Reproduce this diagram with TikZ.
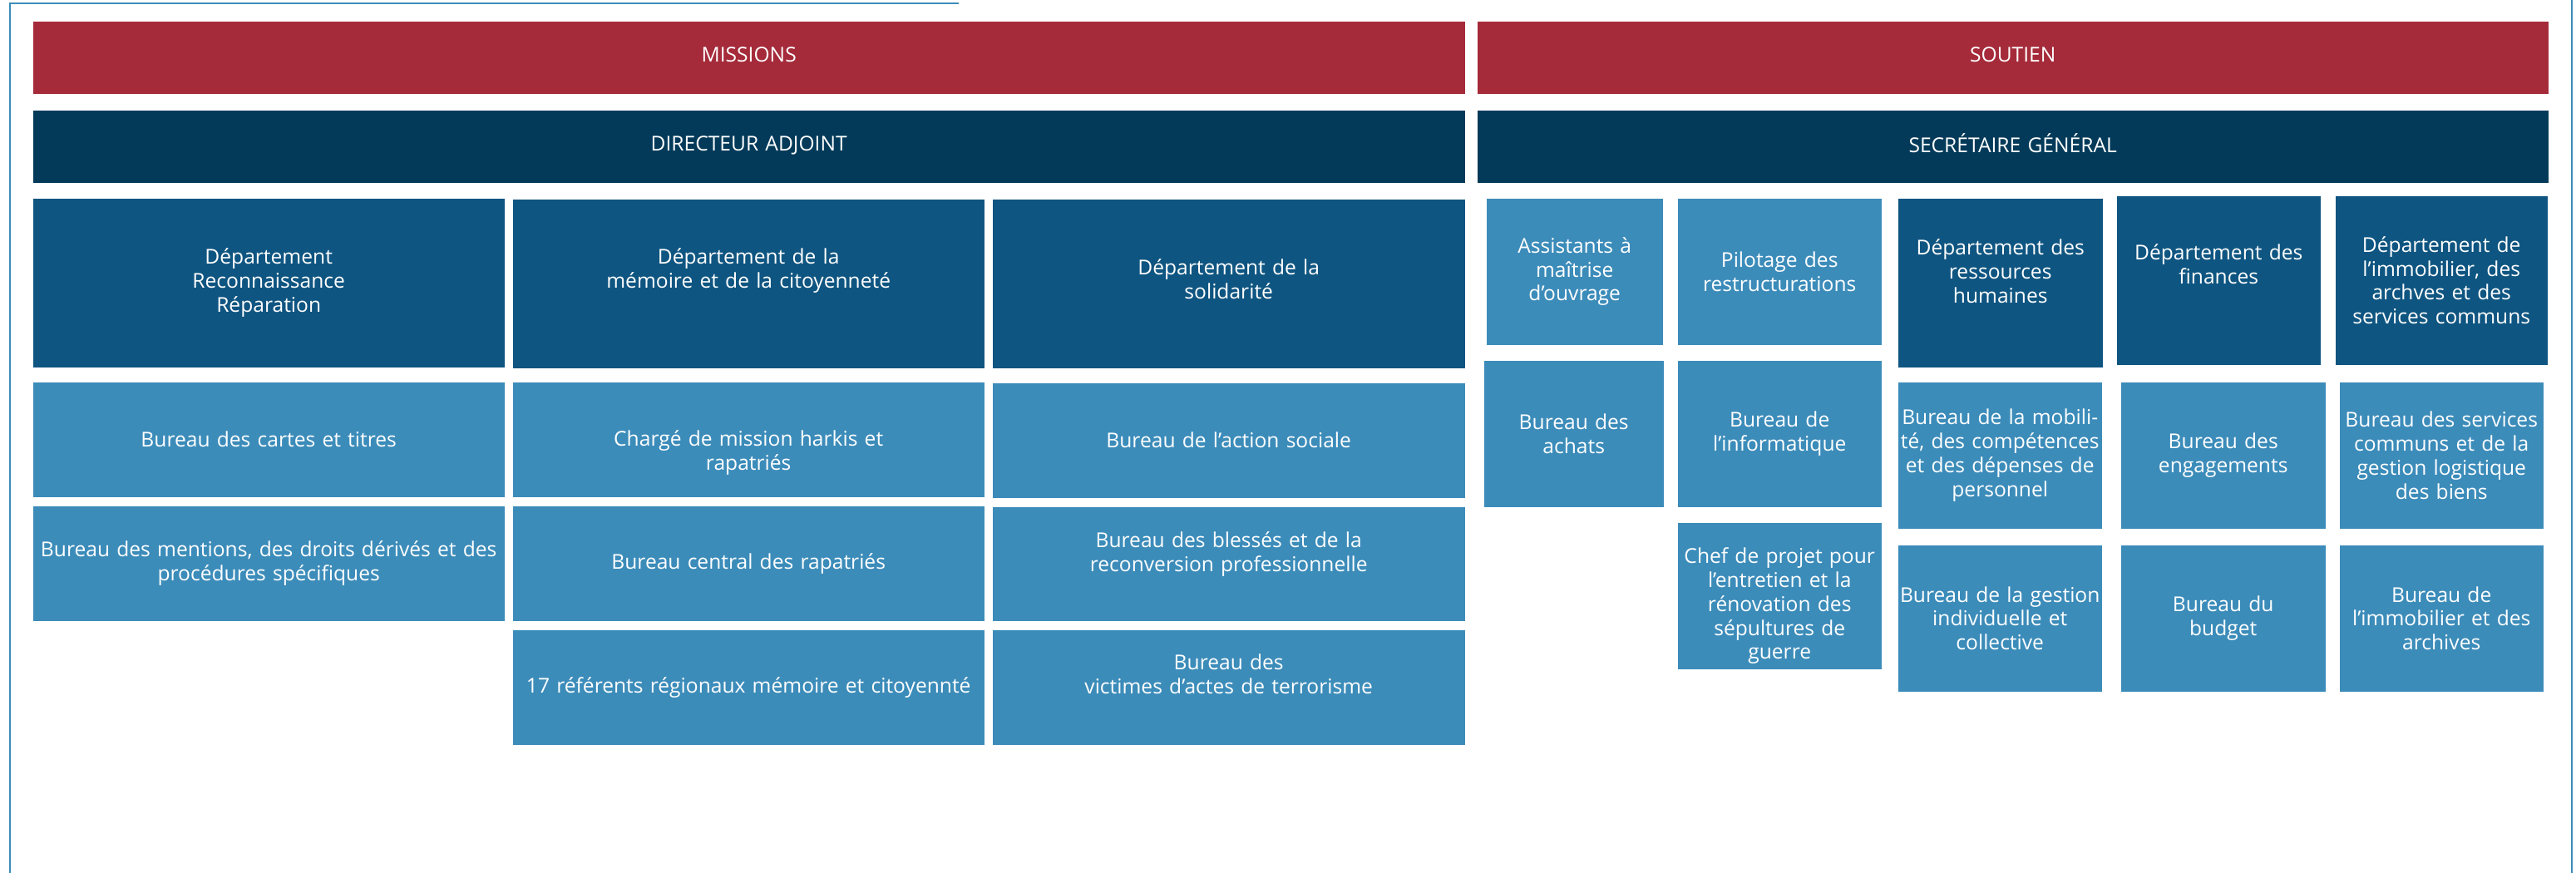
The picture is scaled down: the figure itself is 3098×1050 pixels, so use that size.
\documentclass[tikz,border=0pt]{standalone}
\usepackage{fontspec}
\setmainfont{Open Sans}
\usepackage{tikz}

\definecolor{polered}{HTML}{A52B3A}
\definecolor{headnavy}{HTML}{033A59}
\definecolor{deptblue}{HTML}{0F5581}
\definecolor{bureaublue}{HTML}{3C8CBA}

\begin{document}
\begin{tikzpicture}[
        x=0.1mm, y=-0.1mm,
        cell/.style 2 args={
            rectangle,
            inner sep=0pt,
            anchor=north west,
            text width=#1mm,
            minimum height=#2mm,
            align=center,
            text=white,
            font=\fontsize{7}{8.2}\selectfont
        },
        pole/.style={cell={#1}{8.7}, fill=polered, lift=0.8mm},
        head/.style={cell={#1}{8.7}, fill=headnavy, lift=0.8mm},
        dept/.style={fill=deptblue},
        bureau/.style={fill=bureaublue},
        lift/.style={execute at end node={\rule[-#1]{0pt}{#1}}},
        sink/.style={execute at begin node={\rule{0pt}{#1}}}
    ]
    
    \useasboundingbox (0,0) rectangle (3098,1050);
    
    % frame
    \draw[bureaublue, line width=0.2mm]
        (12,1050) --
        (12,4) --
        (1153,4);
    \draw[bureaublue, line width=0.2mm]
        (3093,0) --
        (3093,1050);
    
    % poles
    \node[pole=172.2] (missions) at (39,25) {MISSIONS};
    \node[pole=128.8] (soutien) at (1776,25) {SOUTIEN};
    
    \node[head=172.2] (directeur) at (39,132) {DIRECTEUR ADJOINT};
    \node[head=128.8] (secretaire) at (1776,132) {SECRÉTAIRE GÉNÉRAL};
    
    % missions: departements
    \node[cell={56.7}{20.3}, dept] (deptrr) at (39,238)
        {Département\\Reconnaissance\\Réparation};
    \node[cell={56.7}{20.3}, dept, lift=3.7mm] (deptmem) at (616,239)
        {Département de la\\mémoire et de la citoyenneté};
    \node[cell={56.8}{20.3}, dept, lift=1.2mm] (deptsol) at (1193,239)
        {Département de la\\solidarité};
    
    % missions: bureaux
    \node[cell={56.7}{13.8}, bureau] (cartes) at (39,459)
        {Bureau des cartes et titres};
    \node[cell={56.7}{13.8}, bureau] (mentions) at (39,608)
        {Bureau des mentions, des droits dérivés et des\\procédures spécifiques};
    
    \node[cell={56.7}{13.8}, bureau, sink=5.1mm] (harkis) at (616,459)
        {Chargé de mission harkis et\\rapatriés};
    \node[cell={56.7}{13.8}, bureau] (central) at (616,608)
        {Bureau central des rapatriés};
    \node[cell={56.7}{13.8}, bureau] (referents) at (616,757)
        {17 référents régionaux mémoire et citoyennté};
    
    \node[cell={56.8}{13.8}, bureau] (social) at (1193,460)
        {Bureau de l’action sociale};
    \node[cell={56.8}{13.7}, bureau, lift=2.9mm] (blesses) at (1193,609)
        {Bureau des blessés et de la\\reconversion professionnelle};
    \node[cell={56.8}{13.8}, bureau, lift=3.2mm] (victimes) at (1193,757)
        {Bureau des\\victimes d’actes de terrorisme};
    
    % soutien: premier rang
    \node[cell={21.2}{17.6}, bureau] (amo) at (1787,238)
        {Assistants à\\maîtrise\\d’ouvrage};
    \node[cell={24.5}{17.6}, bureau] (pilotage) at (2017,238)
        {Pilotage des\\restructurations};
    \node[cell={24.6}{20.3}, dept, lift=2.8mm] (drh) at (2282,238)
        {Département des\\ressources\\humaines};
    \node[cell={24.5}{20.3}, dept, lift=4mm] (finances) at (2545,235)
        {Département des\\finances};
    \node[cell={25.5}{20.3}, dept] (immo) at (2808,235)
        {Département de\\l’immobilier, des\\archves et des\\services communs};
    
    % soutien: bureaux
    \node[cell={21.6}{17.6}, bureau] (achats) at (1784,433)
        {Bureau des\\achats};
    \node[cell={24.5}{17.6}, bureau] (info) at (2017,433)
        {Bureau de\\l’informatique};
    \node[cell={24.5}{17.6}, bureau, sink=4.3mm] (sepultures) at (2017,628)
        {Chef de projet pour\\l’entretien et la\\rénovation des\\sépultures de\\guerre};
    
    \node[cell={24.5}{17.6}, bureau] (mobilite) at (2282,459)
        {Bureau de la mobili-\\té, des compétences\\et des dépenses de\\personnel};
    \node[cell={24.5}{17.6}, bureau] (gestion) at (2282,655)
        {Bureau de la gestion\\individuelle et\\collective};
    
    \node[cell={24.6}{17.6}, bureau] (engagements) at (2550,459)
        {Bureau des\\engagements};
    \node[cell={24.6}{17.6}, bureau] (budget) at (2550,655)
        {Bureau du\\budget};
    
    \node[cell={24.5}{17.6}, bureau] (services) at (2813,459)
        {Bureau des services\\communs et de la\\gestion logistique\\des biens};
    \node[cell={24.5}{17.6}, bureau] (archives) at (2813,655)
        {Bureau de\\l’immobilier et des\\archives};

\end{tikzpicture}
\end{document}
